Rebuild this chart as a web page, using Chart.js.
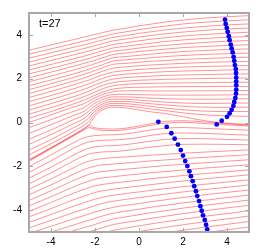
<!DOCTYPE html>
<html>
<head>
<meta charset="utf-8">
<script src="https://cdn.jsdelivr.net/npm/chart.js@4.4.1/dist/chart.umd.min.js"></script>
<style>
  html, body { margin: 0; padding: 0; background: #fff; }
  #chart-container { width: 260px; height: 252px; }
</style>
</head>
<body>
<div id="chart-container"><canvas id="myChart" width="260" height="252"></canvas></div>
<script>
// x positions where every streamline is sampled
var xStations = [-5, -4, -3, -2.5, -2.25, -2.1, -1.9, -1.6, -1.2, -0.6, 0, 0.6, 1.2, 2, 3, 4, 5];

// streamlines passing over the body (y at each station)
var upperLines = [
    [3.30, 3.54, 3.78, 3.90, 3.96, 4.00, 4.04, 4.12, 4.21, 4.31, 4.41, 4.50, 4.59, 4.68, 4.77, 4.83, 4.88],
    [3.12, 3.36, 3.60, 3.72, 3.78, 3.82, 3.87, 3.94, 4.04, 4.14, 4.24, 4.33, 4.40, 4.50, 4.58, 4.64, 4.69],
    [2.94, 3.18, 3.43, 3.55, 3.61, 3.65, 3.70, 3.78, 3.88, 3.97, 4.07, 4.15, 4.23, 4.31, 4.39, 4.46, 4.50],
    [2.76, 3.01, 3.25, 3.38, 3.44, 3.48, 3.54, 3.62, 3.72, 3.81, 3.90, 3.98, 4.05, 4.13, 4.21, 4.27, 4.31],
    [2.58, 2.83, 3.08, 3.21, 3.27, 3.31, 3.37, 3.45, 3.56, 3.64, 3.73, 3.81, 3.87, 3.95, 4.02, 4.08, 4.12],
    [2.40, 2.65, 2.90, 3.03, 3.10, 3.14, 3.20, 3.29, 3.40, 3.48, 3.56, 3.63, 3.70, 3.77, 3.84, 3.89, 3.93],
    [2.22, 2.47, 2.73, 2.86, 2.93, 2.98, 3.04, 3.13, 3.25, 3.32, 3.40, 3.47, 3.52, 3.59, 3.66, 3.71, 3.74],
    [2.04, 2.30, 2.56, 2.70, 2.77, 2.81, 2.88, 2.97, 3.10, 3.17, 3.24, 3.30, 3.35, 3.42, 3.47, 3.52, 3.55],
    [1.86, 2.12, 2.39, 2.53, 2.60, 2.65, 2.72, 2.82, 2.95, 3.01, 3.07, 3.13, 3.18, 3.24, 3.29, 3.33, 3.36],
    [1.68, 1.94, 2.21, 2.36, 2.44, 2.49, 2.55, 2.66, 2.80, 2.86, 2.91, 2.96, 3.01, 3.06, 3.11, 3.14, 3.17],
    [1.50, 1.77, 2.05, 2.20, 2.28, 2.34, 2.41, 2.52, 2.65, 2.70, 2.75, 2.80, 2.83, 2.88, 2.92, 2.96, 2.98],
    [1.32, 1.60, 1.88, 2.03, 2.12, 2.17, 2.25, 2.36, 2.48, 2.54, 2.59, 2.63, 2.66, 2.70, 2.74, 2.77, 2.79],
    [1.14, 1.42, 1.71, 1.87, 1.95, 2.01, 2.09, 2.19, 2.30, 2.37, 2.42, 2.46, 2.49, 2.53, 2.56, 2.58, 2.60],
    [0.95, 1.23, 1.53, 1.69, 1.78, 1.84, 1.92, 2.03, 2.14, 2.21, 2.25, 2.29, 2.32, 2.35, 2.37, 2.40, 2.41],
    [0.76, 1.05, 1.35, 1.52, 1.61, 1.68, 1.76, 1.87, 1.98, 2.05, 2.09, 2.12, 2.15, 2.17, 2.19, 2.21, 2.22],
    [0.57, 0.86, 1.17, 1.34, 1.44, 1.51, 1.60, 1.71, 1.82, 1.89, 1.93, 1.95, 1.97, 1.99, 2.01, 2.02, 2.03],
    [0.38, 0.68, 1.00, 1.18, 1.28, 1.35, 1.44, 1.56, 1.67, 1.74, 1.77, 1.79, 1.80, 1.81, 1.82, 1.83, 1.84],
    [0.19, 0.50, 0.84, 1.02, 1.13, 1.20, 1.29, 1.41, 1.52, 1.59, 1.61, 1.62, 1.63, 1.64, 1.64, 1.65, 1.65],
    [0.00, 0.35, 0.70, 0.86, 1.00, 1.08, 1.18, 1.30, 1.40, 1.45, 1.45, 1.44, 1.44, 1.44, 1.45, 1.45, 1.46],
    [-0.24, 0.13, 0.50, 0.68, 0.85, 0.95, 1.06, 1.18, 1.28, 1.29, 1.27, 1.26, 1.25, 1.25, 1.25, 1.26, 1.27],
    [-0.50, -0.10, 0.31, 0.51, 0.70, 0.82, 0.94, 1.07, 1.17, 1.17, 1.14, 1.11, 1.09, 1.07, 1.06, 1.07, 1.08],
    [-0.76, -0.34, 0.12, 0.35, 0.55, 0.69, 0.82, 0.97, 1.06, 1.06, 1.02, 0.97, 0.93, 0.89, 0.87, 0.88, 0.89],
    [-1.00, -0.55, -0.07, 0.19, 0.40, 0.56, 0.71, 0.87, 0.96, 0.96, 0.91, 0.85, 0.80, 0.74, 0.70, 0.69, 0.70],
    [-1.26, -0.78, -0.25, 0.03, 0.24, 0.43, 0.60, 0.78, 0.87, 0.86, 0.80, 0.73, 0.66, 0.58, 0.52, 0.50, 0.50],
    [-1.48, -0.97, -0.42, -0.12, 0.08, 0.30, 0.50, 0.69, 0.78, 0.76, 0.69, 0.61, 0.54, 0.44, 0.35, 0.30, 0.28],
    [-1.70, -1.15, -0.58, -0.27, -0.08, 0.16, 0.40, 0.60, 0.70, 0.67, 0.57, 0.48, 0.41, 0.26, 0.08, -0.03, -0.10]
];

// streamlines passing under the body
var lowerLines = [
    [-1.73, -1.16, -0.59, -0.29, -0.14, -0.21, -0.26, -0.29, -0.30, -0.26, -0.16, -0.05, 0.05, 0.08, 0.02, -0.06, -0.12],
    [-1.77, -1.20, -0.63, -0.34, -0.23, -0.28, -0.33, -0.36, -0.37, -0.33, -0.23, -0.12, -0.03, 0.01, -0.05, -0.11, -0.16],
    [-2.01, -1.48, -0.93, -0.70, -0.63, -0.61, -0.59, -0.57, -0.56, -0.52, -0.43, -0.33, -0.26, -0.23, -0.27, -0.31, -0.35],
    [-2.28, -1.75, -1.19, -0.96, -0.88, -0.86, -0.83, -0.81, -0.80, -0.76, -0.68, -0.58, -0.51, -0.48, -0.50, -0.54, -0.58],
    [-2.54, -2.04, -1.50, -1.25, -1.16, -1.13, -1.10, -1.07, -1.06, -1.01, -0.93, -0.84, -0.77, -0.73, -0.74, -0.77, -0.80],
    [-2.80, -2.30, -1.77, -1.52, -1.43, -1.40, -1.37, -1.34, -1.33, -1.28, -1.20, -1.12, -1.05, -1.00, -0.99, -1.00, -1.02],
    [-3.05, -2.58, -2.08, -1.84, -1.76, -1.72, -1.68, -1.64, -1.61, -1.57, -1.53, -1.49, -1.45, -1.40, -1.35, -1.30, -1.25],
    [-3.30, -2.85, -2.37, -2.15, -2.06, -2.02, -1.97, -1.93, -1.90, -1.85, -1.80, -1.75, -1.71, -1.65, -1.59, -1.53, -1.47],
    [-3.56, -3.12, -2.66, -2.45, -2.36, -2.31, -2.27, -2.23, -2.19, -2.13, -2.08, -2.02, -1.97, -1.91, -1.84, -1.77, -1.70],
    [-3.81, -3.39, -2.95, -2.75, -2.67, -2.62, -2.57, -2.52, -2.48, -2.41, -2.35, -2.29, -2.24, -2.17, -2.08, -2.01, -1.93],
    [-4.06, -3.65, -3.24, -3.05, -2.97, -2.92, -2.87, -2.82, -2.77, -2.70, -2.63, -2.56, -2.50, -2.42, -2.33, -2.25, -2.16],
    [-4.31, -3.93, -3.54, -3.36, -3.28, -3.23, -3.17, -3.11, -3.05, -2.97, -2.90, -2.83, -2.76, -2.67, -2.57, -2.48, -2.39],
    [-4.56, -4.20, -3.83, -3.66, -3.58, -3.53, -3.47, -3.40, -3.33, -3.24, -3.17, -3.09, -3.02, -2.93, -2.82, -2.72, -2.62],
    [-4.81, -4.47, -4.12, -3.96, -3.88, -3.83, -3.76, -3.68, -3.60, -3.51, -3.43, -3.35, -3.27, -3.17, -3.06, -2.96, -2.85],
    [-5.06, -4.74, -4.41, -4.25, -4.17, -4.12, -4.06, -3.97, -3.88, -3.78, -3.70, -3.61, -3.53, -3.42, -3.30, -3.19, -3.08],
    [-5.31, -5.00, -4.69, -4.53, -4.45, -4.41, -4.34, -4.25, -4.15, -4.05, -3.96, -3.86, -3.78, -3.67, -3.55, -3.43, -3.31],
    [-5.56, -5.26, -4.95, -4.80, -4.73, -4.69, -4.62, -4.52, -4.41, -4.31, -4.21, -4.11, -4.03, -3.91, -3.78, -3.66, -3.54],
    [-5.81, -5.51, -5.21, -5.06, -4.99, -4.94, -4.88, -4.78, -4.67, -4.56, -4.47, -4.37, -4.28, -4.16, -4.03, -3.90, -3.78],
    [-6.06, -5.77, -5.46, -5.31, -5.24, -5.20, -5.13, -5.04, -4.93, -4.82, -4.72, -4.62, -4.53, -4.42, -4.28, -4.16, -4.03],
    [-6.31, -6.02, -5.72, -5.57, -5.50, -5.46, -5.39, -5.30, -5.19, -5.08, -4.98, -4.88, -4.79, -4.67, -4.53, -4.40, -4.27],
    [-6.56, -6.27, -5.97, -5.83, -5.76, -5.72, -5.65, -5.56, -5.45, -5.34, -5.24, -5.13, -5.04, -4.92, -4.78, -4.65, -4.52],
    [-6.81, -6.52, -6.23, -6.08, -6.02, -5.97, -5.91, -5.82, -5.71, -5.60, -5.49, -5.39, -5.30, -5.17, -5.03, -4.90, -4.77]
];

// blue marker lines
var upperDotsX = [3.91, 3.94, 3.99, 4.03, 4.08, 4.12, 4.17, 4.21, 4.26, 4.30, 4.33, 4.36, 4.40, 4.41, 4.42, 4.42, 4.42, 4.42, 4.41, 4.38, 4.33, 4.29, 4.21, 4.12, 4.00, 3.76, 3.53];
var upperDotsY = [4.70, 4.50, 4.32, 4.14, 3.94, 3.76, 3.56, 3.38, 3.20, 3.00, 2.82, 2.62, 2.44, 2.26, 2.06, 1.88, 1.70, 1.50, 1.32, 1.12, 0.94, 0.76, 0.58, 0.42, 0.26, 0.08, -0.09];
var lowerDotsX = [0.88, 1.26, 1.47, 1.62, 1.77, 1.90, 2.00, 2.10, 2.20, 2.29, 2.36, 2.44, 2.51, 2.59, 2.65, 2.73, 2.79, 2.85, 2.91, 2.99, 3.05, 3.10];
var lowerDotsY = [0.03, -0.20, -0.49, -0.74, -1.01, -1.26, -1.51, -1.76, -1.99, -2.23, -2.45, -2.68, -2.91, -3.14, -3.36, -3.59, -3.82, -4.03, -4.24, -4.45, -4.67, -4.88];

var xTicks = [-4, -2, 0, 2, 4];
var yTicks = [-4, -2, 0, 2, 4];
var timeLabel = 't=27';

var lineColor = 'rgba(255, 0, 0, 0.5)';
var dotColor = '#0000ff';
var frameColor = '#a8a8a8';

function toPoints(xs, ys) {
    return xs.map(function (x, i) { return { x: x, y: ys[i] }; });
}

var datasets = [];
datasets.push({ data: toPoints(upperDotsX, upperDotsY), pointRadius: 2.4, pointBackgroundColor: dotColor, pointBorderWidth: 0, showLine: false });
datasets.push({ data: toPoints(lowerDotsX, lowerDotsY), pointRadius: 2.4, pointBackgroundColor: dotColor, pointBorderWidth: 0, showLine: false });
upperLines.concat(lowerLines).forEach(function (ys) {
    datasets.push({
        data: toPoints(xStations, ys),
        showLine: true,
        borderColor: lineColor,
        borderWidth: 0.85,
        pointRadius: 0,
        cubicInterpolationMode: 'monotone'
    });
});

// frame, inward ticks and the time label
var framePlugin = {
    id: 'frame',
    afterDatasetsDraw: function (chart) {
        var ctx = chart.ctx;
        var a = chart.chartArea;
        var xs = chart.scales.x, ys = chart.scales.y;
        ctx.save();
        ctx.strokeStyle = frameColor;
        ctx.lineWidth = 1;
        ctx.beginPath();
        xTicks.forEach(function (v) {
            var px = Math.round(xs.getPixelForValue(v)) + 0.5;
            ctx.moveTo(px, a.top); ctx.lineTo(px, a.top + 4);
            ctx.moveTo(px, a.bottom); ctx.lineTo(px, a.bottom - 4);
        });
        yTicks.forEach(function (v) {
            var py = Math.round(ys.getPixelForValue(v)) + 0.5;
            ctx.moveTo(a.left, py); ctx.lineTo(a.left + 4, py);
            ctx.moveTo(a.right, py); ctx.lineTo(a.right - 4, py);
        });
        ctx.stroke();
        ctx.lineWidth = 2;
        ctx.strokeRect(a.left, a.top, a.right - a.left, a.bottom - a.top);
        ctx.fillStyle = '#000';
        ctx.font = '11px "Liberation Sans", Arial, sans-serif';
        ctx.textBaseline = 'middle';
        ctx.fillText(timeLabel, xs.getPixelForValue(-4.55), ys.getPixelForValue(4.5));
        ctx.restore();
    }
};

var ctx = document.getElementById('myChart').getContext('2d');
var myChart = new Chart(ctx, {
    type: 'scatter',
    data: { datasets: datasets },
    options: {
        responsive: false,
        devicePixelRatio: 1,
        animation: false,
        layout: { padding: { top: 12, right: 11, left: 0, bottom: 0 } },
        plugins: { legend: { display: false }, tooltip: { enabled: false } },
        scales: {
            x: {
                type: 'linear', min: -5, max: 5,
                grid: { display: false, drawTicks: false },
                border: { display: false },
                afterBuildTicks: function (s) { s.ticks = xTicks.map(function (v) { return { value: v }; }); },
                afterFit: function (s) { s.height = 20; },
                ticks: { color: '#000', padding: 4, font: { size: 10, family: '"Liberation Sans", Arial, sans-serif' } }
            },
            y: {
                type: 'linear', min: -5, max: 5,
                grid: { display: false, drawTicks: false },
                border: { display: false },
                afterBuildTicks: function (s) { s.ticks = yTicks.map(function (v) { return { value: v }; }); },
                afterFit: function (s) { s.width = 29; },
                ticks: { color: '#000', padding: 7, font: { size: 10, family: '"Liberation Sans", Arial, sans-serif' } }
            }
        }
    },
    plugins: [framePlugin]
});
</script>
</body>
</html>
